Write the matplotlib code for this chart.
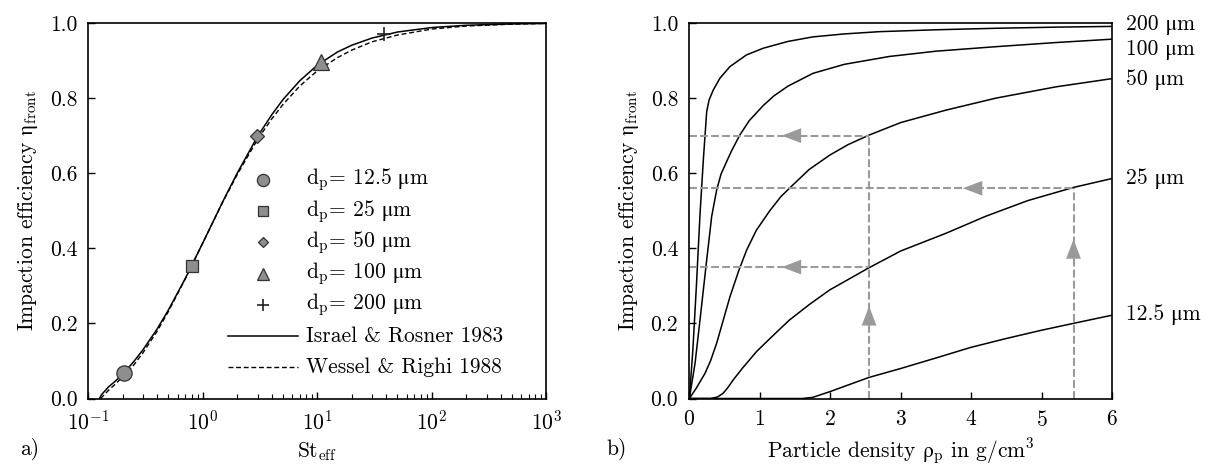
import matplotlib
matplotlib.use("Agg")
import matplotlib.pyplot as plt
from matplotlib.ticker import FormatStrFormatter, LogLocator, NullFormatter

plt.rcParams['font.family'] = ['cmr10', 'STIXGeneral', 'DejaVu Serif']
plt.rcParams['mathtext.fontset'] = 'custom'
plt.rcParams['mathtext.rm'] = 'cmr10'
plt.rcParams['mathtext.it'] = 'cmmi10'
plt.rcParams['mathtext.bf'] = 'cmb10'
plt.rcParams['mathtext.sf'] = 'cmss10'
plt.rcParams['mathtext.tt'] = 'cmtt10'
plt.rcParams['mathtext.cal'] = 'cmsy10'
plt.rcParams['mathtext.fallback'] = 'stix'
plt.rcParams['axes.formatter.use_mathtext'] = True
plt.rcParams['axes.unicode_minus'] = False

# ---------------- data: panel a ----------------
st_israel = [0.125, 0.13, 0.15, 0.17, 0.2, 0.25, 0.3, 0.4, 0.5, 0.7, 1.0, 1.5, 2.0, 3.0, 4.0,
             5.0, 7.0, 10, 15, 20, 30, 50, 100, 200, 500, 1000]
eta_israel = [0.0, 0.010, 0.031, 0.045, 0.065, 0.099, 0.130, 0.186, 0.236, 0.319, 0.415, 0.526,
              0.601, 0.698, 0.756, 0.796, 0.846, 0.888, 0.923, 0.941, 0.960, 0.976, 0.988, 0.994,
              0.9975, 0.9988]
st_wessel = [0.128, 0.15, 0.17, 0.2, 0.25, 0.3, 0.4, 0.5, 0.7, 1.0, 1.5, 2.0, 3.0, 4.0, 5.0, 7.0,
             10, 15, 20, 30, 50, 100, 200, 500, 1000]
eta_wessel = [0.0, 0.022, 0.037, 0.058, 0.090, 0.122, 0.180, 0.232, 0.318, 0.415, 0.525, 0.597,
              0.690, 0.745, 0.783, 0.832, 0.873, 0.908, 0.928, 0.950, 0.968, 0.984, 0.992,
              0.997, 0.999]
marker_labels = ["12.5", "25", "50", "100", "200"]
marker_st = [0.205, 0.80, 2.95, 10.8, 38.0]
marker_eta = [0.067, 0.352, 0.700, 0.895, 0.970]
marker_shapes = ['o', 's', 'D', '^', '+']
marker_sizes = [11, 9, 7, 11, 10]
line_labels = ['Israel & Rosner 1983', 'Wessel & Righi 1988']

# ---------------- data: panel b ----------------
rho_200 = [0, 0.05, 0.10, 0.151, 0.20, 0.246, 0.28, 0.34, 0.434, 0.576, 0.81, 1.05, 1.4, 1.75,
           2.2, 2.7, 3.5, 4.35, 5.2, 6.0]
eta_200 = [0, 0.13, 0.30, 0.49, 0.64, 0.764, 0.795, 0.822, 0.853, 0.884, 0.915, 0.933, 0.951,
           0.963, 0.971, 0.977, 0.982, 0.986, 0.989, 0.991]
rho_100 = [0, 0.081, 0.151, 0.246, 0.317, 0.387, 0.45, 0.529, 0.60, 0.717, 0.85, 1.047, 1.2, 1.4,
           1.754, 2.2, 2.84, 3.5, 4.35, 5.2, 6.0]
eta_100 = [0, 0.094, 0.209, 0.369, 0.485, 0.555, 0.598, 0.631, 0.660, 0.702, 0.740, 0.780, 0.806,
           0.832, 0.866, 0.890, 0.911, 0.925, 0.937, 0.948, 0.957]
rho_50 = [0, 0.10, 0.222, 0.30, 0.387, 0.48, 0.576, 0.70, 0.812, 0.95, 1.141, 1.3, 1.47, 1.7, 1.99,
          2.25, 2.556, 3.0, 3.64, 4.35, 5.2, 6.0]
eta_50 = [0, 0.028, 0.067, 0.100, 0.147, 0.208, 0.271, 0.340, 0.395, 0.448, 0.500, 0.538, 0.569,
          0.610, 0.648, 0.676, 0.702, 0.735, 0.768, 0.800, 0.830, 0.852]
rho_25 = [0, 0.3, 0.40, 0.48, 0.55, 0.62, 0.75, 0.953, 1.2, 1.42, 1.7, 1.99, 2.546, 3.0, 3.64,
          4.2, 4.8, 5.446, 6.0]
eta_25 = [0, 0.0, 0.004, 0.014, 0.030, 0.049, 0.080, 0.125, 0.170, 0.209, 0.250, 0.289, 0.348,
          0.393, 0.440, 0.485, 0.527, 0.562, 0.586]
rho_12 = [0, 1.6, 1.75, 1.99, 2.546, 3.0, 3.5, 3.99, 4.5, 5.0, 5.446, 6.0]
eta_12 = [0, 0.0, 0.003, 0.018, 0.056, 0.080, 0.108, 0.136, 0.160, 0.182, 0.200, 0.222]
size_labels = ["200 μm", "100 μm", "50 μm", "25 μm", "12.5 μm"]
size_label_y = [0.995, 0.928, 0.850, 0.586, 0.222]

# guide lines (density, efficiency)
guide_rho = [2.55, 5.45]
guide_eta = [0.70, 0.35, 0.56]

GREY = '#9a9a9a'
FILL = '#8e8e8e'
DASHED = (0, (3.5, 2.0))

fig = plt.figure(figsize=(12.06, 4.65), dpi=100)
axa = fig.add_axes([0.0733, 0.143, 0.3798, 0.8075])
axb = fig.add_axes([0.5716, 0.143, 0.3507, 0.8075])

FS = 15.5
YLAB = 'Impaction efficiency $\\mathrm{\\eta_{front}}$'

# ---------------- panel a ----------------
axa.plot(st_israel, eta_israel, color='black', lw=1.1)
axa.plot(st_wessel, eta_wessel, color='black', lw=1.0, ls=DASHED)

# legend rows (axes fraction positions)
row0, drow = 0.582, 0.0831
mx, tx, lx0, lx1 = 0.381, 0.475, 0.305, 0.458
for i, (lab, s, e, m, ms) in enumerate(zip(marker_labels, marker_st, marker_eta, marker_shapes, marker_sizes)):
    yy = row0 - i * drow
    if m == '+':
        axa.plot([s], [e], marker='+', color='#222222', ms=ms, mew=1.2, ls='none')
        axa.plot([mx], [yy], marker='+', color='#222222', ms=ms * 0.85, mew=1.2, ls='none',
                 transform=axa.transAxes, clip_on=False)
    else:
        axa.plot([s], [e], marker=m, mfc=FILL, mec='#333333', mew=0.9, ms=ms, ls='none')
        axa.plot([mx], [yy], marker=m, mfc=FILL, mec='#333333', mew=0.9, ms=ms * 0.8, ls='none',
                 transform=axa.transAxes, clip_on=False)
    axa.text(tx, yy, 'd$_\\mathrm{p}$= ' + lab + ' $\\mathrm{\\mu}$m', transform=axa.transAxes,
             fontsize=FS, va='center', ha='left')
for j, (lab, lsty, lw) in enumerate(zip(line_labels, ['-', DASHED], [1.1, 1.0])):
    yy = row0 - (5 + j) * drow
    axa.plot([lx0, lx1], [yy, yy], color='black', lw=lw, ls=lsty, transform=axa.transAxes)
    axa.text(tx, yy, lab, transform=axa.transAxes, fontsize=FS, va='center', ha='left')

axa.set_xscale('log')
axa.set_xlim(0.1, 1000)
axa.set_ylim(0, 1.0)
axa.xaxis.set_major_locator(LogLocator(base=10, numticks=10))
axa.xaxis.set_minor_locator(LogLocator(base=10, subs=range(2, 10), numticks=20))
axa.xaxis.set_minor_formatter(NullFormatter())
axa.set_yticks([0, 0.2, 0.4, 0.6, 0.8, 1.0])
axa.yaxis.set_major_formatter(FormatStrFormatter('%.1f'))
axa.set_xlabel('St$_\\mathrm{eff}$', fontsize=FS, labelpad=5)
axa.set_ylabel(YLAB, fontsize=FS, labelpad=7)

# ---------------- panel b ----------------
for r, e in [(rho_200, eta_200), (rho_100, eta_100), (rho_50, eta_50), (rho_25, eta_25), (rho_12, eta_12)]:
    axb.plot(r, e, color='black', lw=1.1)

dash = (0, (3.8, 1.5))
axb.plot([0, guide_rho[0]], [guide_eta[0], guide_eta[0]], color=GREY, lw=1.5, ls=dash)
axb.plot([0, guide_rho[0]], [guide_eta[1], guide_eta[1]], color=GREY, lw=1.5, ls=dash)
axb.plot([0, guide_rho[1]], [guide_eta[2], guide_eta[2]], color=GREY, lw=1.5, ls=dash)
axb.plot([guide_rho[0], guide_rho[0]], [0, guide_eta[0]], color=GREY, lw=1.5, ls=dash)
axb.plot([guide_rho[1], guide_rho[1]], [0, guide_eta[2]], color=GREY, lw=1.5, ls=dash)

arrow_kw = dict(arrowstyle='-|>,head_length=1.0,head_width=0.38', color=GREY, lw=0,
                shrinkA=0, shrinkB=0, mutation_scale=14)
for (xt, yt) in [(1.31, guide_eta[0]), (1.31, guide_eta[1]), (3.88, guide_eta[2])]:
    axb.annotate('', xy=(xt, yt), xytext=(xt + 0.3, yt), arrowprops=arrow_kw)
for (xt, yt) in [(guide_rho[0], 0.246), (guide_rho[1], 0.424)]:
    axb.annotate('', xy=(xt, yt), xytext=(xt, yt - 0.06), arrowprops=arrow_kw)

for lab, y in zip(size_labels, size_label_y):
    axb.text(6.2, y, lab, fontsize=FS, va='center', ha='left', clip_on=False)

axb.set_xlim(0, 6)
axb.set_ylim(0, 1.0)
axb.set_xticks([0, 1, 2, 3, 4, 5, 6])
axb.set_yticks([0, 0.2, 0.4, 0.6, 0.8, 1.0])
axb.yaxis.set_major_formatter(FormatStrFormatter('%.1f'))
axb.set_xlabel('Particle density $\\mathrm{\\rho_p}$ in g/cm$^\\mathrm{3}$', fontsize=FS, labelpad=5)
axb.set_ylabel(YLAB, fontsize=FS, labelpad=7)

for ax in (axa, axb):
    ax.tick_params(which='both', direction='in', top=False, right=False, labelsize=FS, pad=8)
    ax.tick_params(which='major', length=5, width=1.0)
    ax.tick_params(which='minor', length=3.5, width=0.8)
    for sp in ax.spines.values():
        sp.set_linewidth(1.2)

fig.text(0.0166, 0.034, 'a)', fontsize=FS, ha='left', va='center')
fig.text(0.503, 0.034, 'b)', fontsize=FS, ha='left', va='center')

fig.savefig('out.png', dpi=100)
